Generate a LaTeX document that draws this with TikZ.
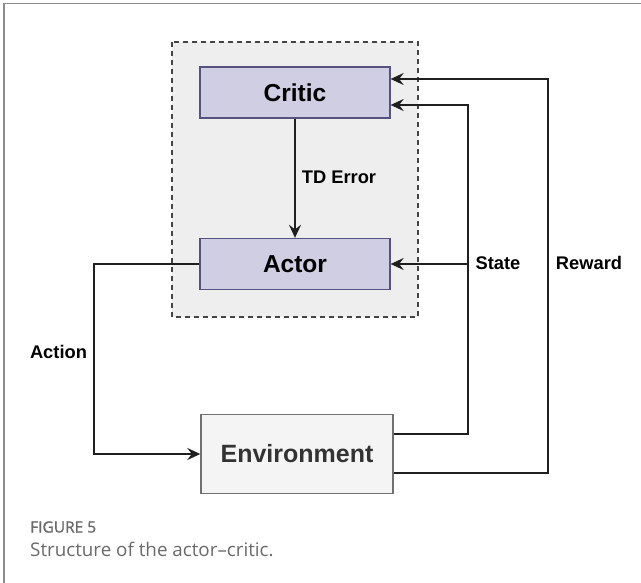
\documentclass[tikz,border=0pt]{standalone}
\usepackage{fontspec}
\setmainfont{Liberation Sans}
\newfontfamily\capfont{Open Sans}
\newfontfamily\capbold[FakeBold=1.3]{Open Sans}
\usetikzlibrary{arrows.meta}

\definecolor{boxfill}{HTML}{D0CEE2}
\definecolor{boxline}{HTML}{56517E}
\definecolor{groupfill}{HTML}{EEEEEE}
\definecolor{groupline}{HTML}{444444}
\definecolor{envfill}{HTML}{F4F4F4}
\definecolor{envline}{HTML}{707070}
\definecolor{frameline}{HTML}{8C8C8C}
\definecolor{captext}{HTML}{6A6A6A}

\tikzset{
  agent/.style={draw=boxline, fill=boxfill, line width=1.3pt,
    minimum width=190pt, minimum height=51pt, inner sep=0pt,
    font=\fontsize{24.5}{28}\selectfont\bfseries},
  envbox/.style={draw=envline, fill=envfill, line width=1.4pt,
    minimum width=192pt, minimum height=79pt, inner sep=0pt,
    text=black!80, font=\fontsize{25}{29}\selectfont\bfseries},
  arr/.style={line width=1.8pt, black!88, -{Stealth[length=13pt,width=12pt,inset=4.5pt]}},
  lbl/.style={inner sep=0pt, font=\fontsize{18.3}{22}\selectfont\bfseries},
  caphead/.style={anchor=west, inner sep=0pt, text=captext, font=\capbold\fontsize{15.5}{18}\selectfont},
  captxt/.style={anchor=west, inner sep=0pt, text=captext, font=\capfont\fontsize{18.8}{22}\selectfont},
}

\begin{document}
\begin{tikzpicture}[x=1pt, y=-1pt]
  \useasboundingbox (0,0) rectangle (641,583);

  % page frame (left and top rules)
  \draw[frameline, line width=1.6pt] (4,583) -- (4,3.5) -- (641,3.5);

  % dashed group around the agent
  \draw[groupline, fill=groupfill, line width=1.3pt,
        dash pattern=on 5pt off 4pt] (172,42) rectangle (418,317);

  % blocks
  \node[agent] (critic) at (295,92.5) {Critic};
  \node[agent] (actor) at (295,264) {Actor};
  \node[envbox] (env) at (297,454) {Environment};

  % TD error from critic to actor
  \draw[arr] (critic.south) -- (actor.north);
  \node[lbl] (td) at (339,177) {TD Error};

  % action from actor to environment
  \draw[arr] (actor.west) -- ++(-105,0) |- (env.west);
  \node[lbl] (action) at (58.5,352) {Action};

  % state from environment to critic and actor
  \draw[arr] ([yshift=20pt]env.east) -- ++(74,0) coordinate (sj)
             |- ([yshift=-12.5pt]critic.east);
  \draw[arr] (sj |- actor.east) -- (actor.east);
  \node[lbl] (state) at (498,263) {State};

  % reward from environment to critic
  \draw[arr] ([yshift=-19pt]env.east) -- ++(154,0) |- ([yshift=13.5pt]critic.east);
  \node[lbl] (reward) at (589,263) {Reward};

  % caption
  \node[caphead] (fig) at (30,527) {FIGURE 5};
  \node[captxt] (cap) at (30,549) {Structure of the actor–critic.};
\end{tikzpicture}
\end{document}
